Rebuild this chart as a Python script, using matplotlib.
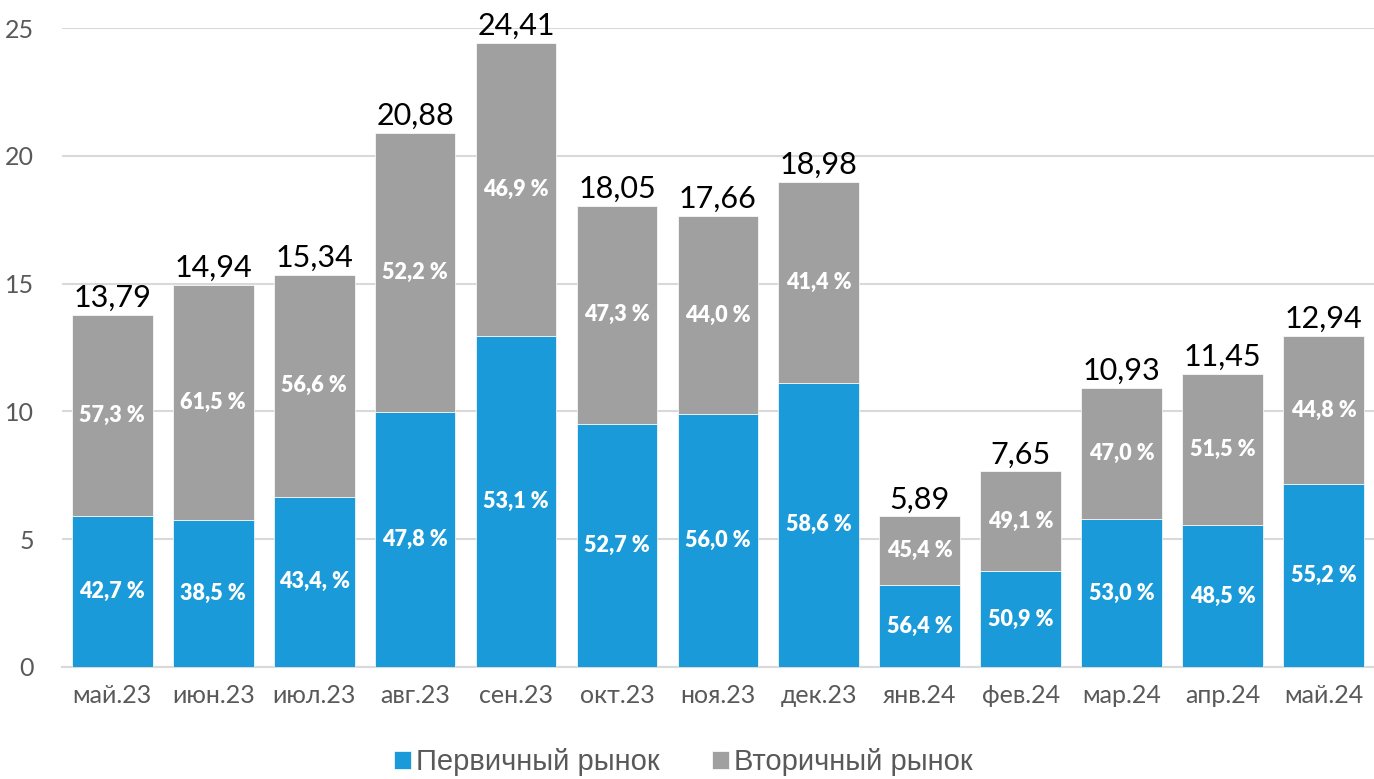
import matplotlib
matplotlib.use('Agg')
import matplotlib.pyplot as plt
import numpy as np

# Data
months = ['май.23', 'июн.23', 'июл.23', 'авг.23', 'сен.23', 'окт.23', 'ноя.23',
          'дек.23', 'янв.24', 'фев.24', 'мар.24', 'апр.24', 'май.24']
totals = [13.79, 14.94, 15.34, 20.88, 24.41, 18.05, 17.66, 18.98, 5.89, 7.65, 10.93, 11.45, 12.94]
primary = [5.89, 5.75, 6.66, 9.98, 12.96, 9.51, 9.89, 11.12, 3.20, 3.75, 5.79, 5.55, 7.14]
primary_labels = ['42,7 %', '38,5 %', '43,4, %', '47,8 %', '53,1 %', '52,7 %', '56,0 %',
                  '58,6 %', '56,4 %', '50,9 %', '53,0 %', '48,5 %', '55,2 %']
secondary_labels = ['57,3 %', '61,5 %', '56,6 %', '52,2 %', '46,9 %', '47,3 %', '44,0 %',
                    '41,4 %', '45,4 %', '49,1 %', '47,0 %', '51,5 %', '44,8 %']

blue = '#1a9ad9'
gray = '#a0a0a0'
font = ['Lato', 'DejaVu Sans']

fig = plt.figure(figsize=(13.74, 7.79), dpi=100)
ax = fig.add_axes([0.045, 0.1438, 0.955, 0.8202])

x = np.arange(len(months))
secondary = np.array(totals) - np.array(primary)

ax.bar(x, primary, width=0.8, color=blue, edgecolor='white', linewidth=0.5, zorder=3,
       label='Первичный рынок')
ax.bar(x, secondary, width=0.8, bottom=primary, color=gray, edgecolor='white', linewidth=0.5,
       zorder=3, label='Вторичный рынок')

# Labels inside and above the bars
for i in range(len(months)):
    ax.text(x[i], primary[i] / 2, primary_labels[i], ha='center', va='center',
            color='white', fontsize=15.5, fontweight='heavy', family=font, zorder=4)
    ax.text(x[i], primary[i] + secondary[i] / 2, secondary_labels[i], ha='center', va='center',
            color='white', fontsize=15.5, fontweight='heavy', family=font, zorder=4)
    ax.text(x[i], totals[i] + 0.12, ('%.2f' % totals[i]).replace('.', ','), ha='center',
            va='bottom', color='black', fontsize=22, family=font, zorder=4)

# Axes settings
ax.set_xlim(-0.5, 12.5)
ax.set_ylim(0, 25)
ax.set_yticks([0, 5, 10, 15, 20, 25])
ax.set_xticks(x)
ax.set_xticklabels(months)
for lab in ax.get_xticklabels() + ax.get_yticklabels():
    lab.set_family(font)
    lab.set_fontsize(18)
    lab.set_color('#595959')
ax.tick_params(length=0, pad=12)
ax.tick_params(axis='y', pad=20)
ax.grid(axis='y', color='#d9d9d9', linewidth=1.5, zorder=0)
for s in ['top', 'right', 'left']:
    ax.spines[s].set_visible(False)
ax.spines['bottom'].set_color('#d9d9d9')
ax.spines['bottom'].set_linewidth(1.5)

# Legend at the bottom
fig.legend(loc='lower center', bbox_to_anchor=(0.497, -0.03), ncol=2, frameon=False,
           handlelength=0.6, handleheight=0.6, handletextpad=0.15, columnspacing=1.8,
           prop={'family': 'Liberation Sans', 'size': 21}, labelcolor='#595959')

plt.savefig('out.png', dpi=100)
